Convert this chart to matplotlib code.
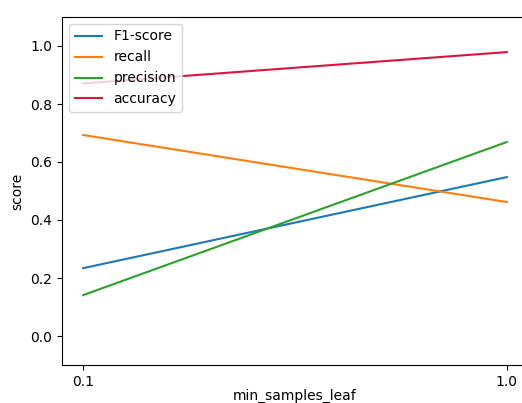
import matplotlib
matplotlib.use("Agg")
import matplotlib.pyplot as plt

min_samples_leaf = [0.1, 1.0]
f1_score = [0.234, 0.548]
recall = [0.693, 0.462]
precision = [0.141, 0.669]
accuracy = [0.871, 0.979]


def main() -> None:
    fig = plt.figure(figsize=(5.22, 4.03), dpi=100)
    ax = fig.add_axes([62 / 522, 38 / 403, 466 / 522, 348 / 403])
    ax.plot(min_samples_leaf, f1_score, label="F1-score", color="tab:blue")
    ax.plot(min_samples_leaf, recall, label="recall", color="tab:orange")
    ax.plot(min_samples_leaf, precision, label="precision", color="tab:green")
    ax.plot(min_samples_leaf, accuracy, label="accuracy", color="crimson")
    ax.set_xticks(min_samples_leaf)
    ax.set_xticklabels(["0.1", "1.0"])
    ax.set_ylim(-0.1, 1.1)
    # label sits at the bottom edge, keep it just inside
    ax.set_xlabel("min_samples_leaf", labelpad=0)
    ax.set_ylabel("score")
    ax.legend(loc="upper left")
    fig.savefig("out.png")


if __name__ == "__main__":
    main()
